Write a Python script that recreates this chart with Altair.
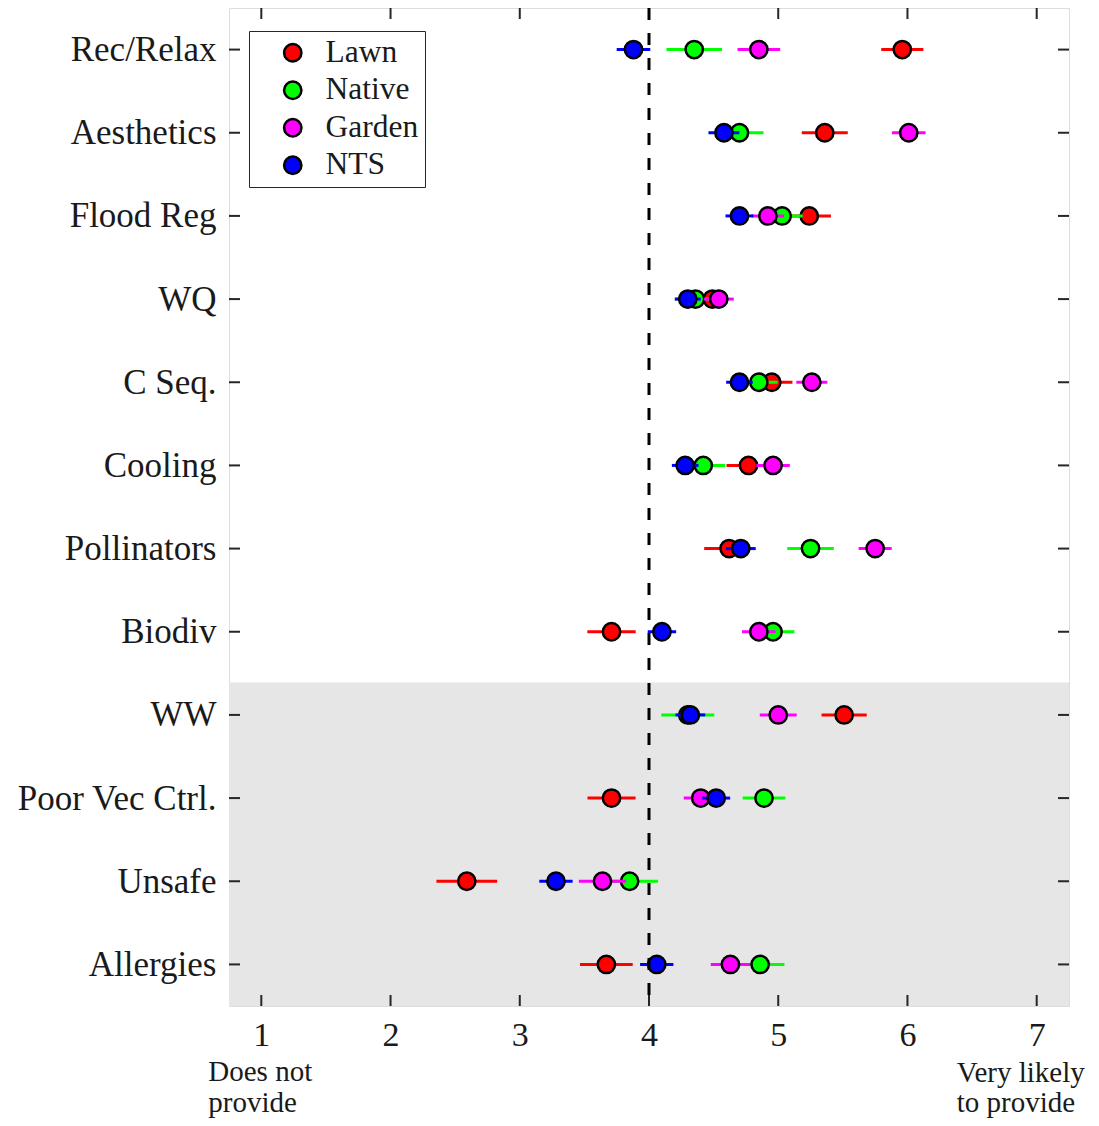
import altair as alt
import pandas as pd

categories = ["Rec/Relax", "Aesthetics", "Flood Reg", "WQ", "C Seq.", "Cooling",
              "Pollinators", "Biodiv", "WW", "Poor Vec Ctrl.", "Unsafe", "Allergies"]
series_names = ["Lawn", "Native", "Garden", "NTS"]
series_colors = ["#FF0000", "#00FF00", "#FF00FF", "#0000FF"]

lawn_mean = [5.96, 5.36, 5.24, 4.49, 4.95, 4.77, 4.62, 3.71, 5.51, 3.71, 2.59, 3.67]
lawn_err = [0.163, 0.178, 0.168, 0.12, 0.16, 0.17, 0.193, 0.187, 0.175, 0.186, 0.235, 0.204]
native_mean = [4.35, 4.70, 5.03, 4.36, 4.85, 4.42, 5.25, 4.96, 4.30, 4.89, 3.85, 4.86]
native_err = [0.215, 0.186, 0.16, 0.16, 0.145, 0.17, 0.18, 0.165, 0.205, 0.165, 0.219, 0.188]
garden_mean = [4.85, 6.01, 4.92, 4.54, 5.26, 4.96, 5.75, 4.85, 5.00, 4.40, 3.64, 4.63]
garden_err = [0.165, 0.13, 0.125, 0.116, 0.12, 0.13, 0.128, 0.13, 0.143, 0.131, 0.183, 0.152]
nts_mean = [3.88, 4.58, 4.70, 4.30, 4.70, 4.28, 4.71, 4.10, 4.32, 4.52, 3.28, 4.06]
nts_err = [0.13, 0.12, 0.108, 0.10, 0.103, 0.103, 0.116, 0.11, 0.115, 0.108, 0.129, 0.129]

x_ticks = [1, 2, 3, 4, 5, 6, 7]
neutral_value = 4
low_label = "Does not\nprovide"
high_label = "Very likely\nto provide"

FONT = "Liberation Serif"
TXT = "#1a1a1a"
FRAME = "#262626"
W, H = 840, 998
X_DOM = [0.75, 7.25]
Y_DOM = [-0.5, 11.5]
SHADE_FROM = 7.61

row_px = H / (Y_DOM[1] - Y_DOM[0])
x_px = W / (X_DOM[1] - X_DOM[0])
tick_len_y = 11 / row_px
tick_len_x = 11 / x_px

all_means = [lawn_mean, native_mean, garden_mean, nts_mean]
all_errs = [lawn_err, native_err, garden_err, nts_err]
rows = []
for s, means, errs in zip(series_names, all_means, all_errs):
    for i, (c, m, e) in enumerate(zip(categories, means, errs)):
        rows.append(dict(series=s, row=i, cat=c, mean=m, lo=m - e, hi=m + e))
df = pd.DataFrame(rows)

xs = alt.Scale(domain=X_DOM, nice=False, zero=False)
ys = alt.Scale(domain=Y_DOM, reverse=True, nice=False, zero=False)

label_expr = "[" + ",".join("'" + c + "'" for c in categories) + "][datum.value]"

x_axis = alt.Axis(values=x_ticks, ticks=False, domain=False, grid=False, title=None,
                  labelFont=FONT, labelFontSize=34, labelColor=TXT, labelPadding=12,
                  labelFlush=False)
y_axis = alt.Axis(values=list(range(len(categories))), labelExpr=label_expr, ticks=False,
                  domain=False, grid=False, title=None, labelFont=FONT, labelFontSize=35,
                  labelColor=TXT, labelPadding=13, labelFlush=False, labelLimit=400)


def X(field):
    return alt.X(field, scale=xs, axis=x_axis)


def Y(field):
    return alt.Y(field, scale=ys, axis=y_axis)


# shaded region
shade_df = pd.DataFrame([dict(x0=X_DOM[0], x1=X_DOM[1], y0=SHADE_FROM, y1=Y_DOM[1])])
shade = alt.Chart(shade_df).mark_rect(color="#E6E6E6").encode(
    x=X("x0:Q"), x2="x1:Q", y=Y("y0:Q"), y2="y1:Q",
)

# inward tick marks (box style)
tick_rows = []
for v in x_ticks:
    tick_rows.append(dict(a=v, b=v, c=Y_DOM[1], d=Y_DOM[1] - tick_len_y))
    tick_rows.append(dict(a=v, b=v, c=Y_DOM[0], d=Y_DOM[0] + tick_len_y))
for i in range(len(categories)):
    tick_rows.append(dict(a=X_DOM[0], b=X_DOM[0] + tick_len_x, c=i, d=i))
    tick_rows.append(dict(a=X_DOM[1], b=X_DOM[1] - tick_len_x, c=i, d=i))
ticks = alt.Chart(pd.DataFrame(tick_rows)).mark_rule(color=FRAME, strokeWidth=2).encode(
    x=X("a:Q"), x2="b:Q", y=Y("c:Q"), y2="d:Q",
)

layers = [shade, ticks]

legend = alt.Legend(title=None, orient="none", legendX=20, legendY=23, fillColor="white",
                    strokeColor=FRAME, padding=6, rowPadding=4.5, symbolType="circle",
                    symbolSize=300, symbolStrokeWidth=2.5, symbolStrokeColor="black",
                    symbolOffset=22, labelOffset=17, labelFont=FONT, labelFontSize=31.5,
                    labelColor=TXT)

for k, (s, col) in enumerate(zip(series_names, series_colors)):
    sub = df[df.series == s]
    bars = alt.Chart(sub).mark_rule(color=col, strokeWidth=3).encode(
        x=X("lo:Q"), x2="hi:Q", y=Y("row:Q"),
    )
    pts = alt.Chart(sub).mark_point(filled=True, shape="circle", size=300, stroke="black",
                                    strokeWidth=2.5, opacity=1).encode(
        x=X("mean:Q"), y=Y("row:Q"),
        fill=alt.Fill("series:N", scale=alt.Scale(domain=series_names, range=series_colors),
                      legend=legend),
    )
    layers += [bars, pts]

neutral = alt.Chart(pd.DataFrame([dict(v=neutral_value)])).mark_rule(
    color="black", strokeWidth=3, strokeDash=[12, 13]).encode(x=X("v:Q"))
layers.append(neutral)

low_txt = alt.Chart(pd.DataFrame([dict(v=x_ticks[0], y=Y_DOM[1], t=low_label)])).mark_text(
    align="left", baseline="alphabetic", dx=-53, dy=75, font=FONT, fontSize=29, color=TXT,
    lineBreak="\n", lineHeight=31).encode(x=X("v:Q"), y=Y("y:Q"), text="t:N")
high_txt = alt.Chart(pd.DataFrame([dict(v=x_ticks[-1], y=Y_DOM[1], t=high_label)])).mark_text(
    align="left", baseline="alphabetic", dx=-80, dy=76, font=FONT, fontSize=29, color=TXT,
    lineBreak="\n", lineHeight=30).encode(x=X("v:Q"), y=Y("y:Q"), text="t:N")
layers += [low_txt, high_txt]

chart = alt.layer(*layers).properties(
    width=W, height=H,
    autosize=alt.AutoSizeParams(type="none"),
    padding={"left": 221, "top": 0, "right": 22, "bottom": 112},
).configure_view(stroke=FRAME, strokeWidth=2).configure(background="white")

chart.save("out.html", embed_options={"renderer": "svg", "actions": False})
